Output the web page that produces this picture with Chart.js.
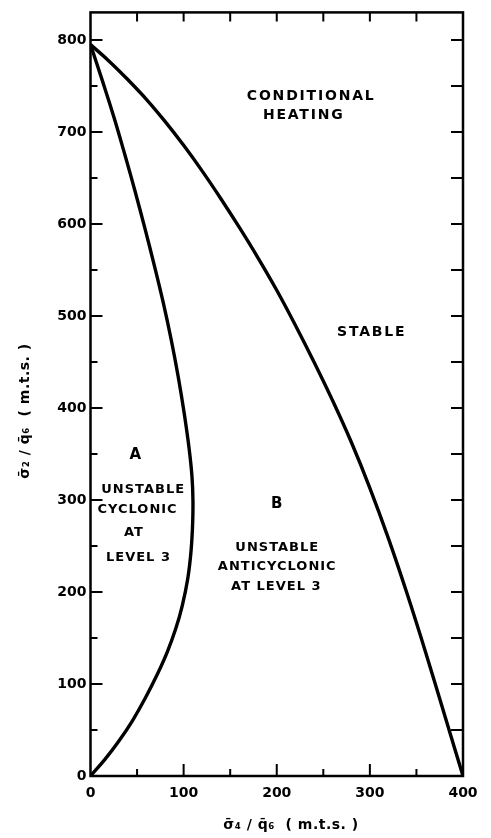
<!DOCTYPE html>
<html>
<head>
<meta charset="utf-8">
<script src="https://cdn.jsdelivr.net/npm/chart.js@4.4.0/dist/chart.umd.min.js"></script>
<style>
    html, body { margin: 0; padding: 0; background: #ffffff; }
    #graph_box { width: 491px; height: 838px; }
</style>
</head>
<body>
<div id="graph_box"><canvas id="graph_canvas"></canvas></div>
<script>
// stable / unstable boundary, read along sigma4/q6
const outerX = [0, 20, 40, 60, 80, 100, 120, 140, 160, 180, 200, 220, 240, 260, 280, 300, 320, 340, 360, 380, 400];
const outerY = [795, 777, 757, 735.5, 711.5, 685.5, 657.5, 627.5, 596, 563, 528, 490, 450, 408, 363, 313, 258, 198, 134, 67, 0];

// cyclonic / anticyclonic boundary (bulges out to ~110 near 300)
const innerX = [0, 13, 25.5, 37, 48, 58.5, 68.5, 78, 86.5, 94, 100.5, 106, 109, 110, 109.7, 108, 104.5, 98.5, 91.5, 82.5, 71.5, 59, 45, 30.5, 15.5, 0];
const innerY = [795, 755, 715, 675, 635, 595, 555, 515, 475, 435, 395, 355, 325, 300, 275, 245, 215, 185, 160, 135, 110, 85, 60, 38, 18, 0];

const xTicks = [0, 100, 200, 300, 400];
const yTicks = [0, 100, 200, 300, 400, 500, 600, 700, 800];

const xTitle = 'σ̄₄ / q̄₆  ( m.t.s. )';
const yTitle = 'σ̄₂ / q̄₆  ( m.t.s. )';

// region names: text, x, y (data units), font size, letter spacing
const notes = [
    ['CONDITIONAL', 236, 739, 14, 1.8], ['HEATING', 228, 718, 14, 1.8],
    ['STABLE', 301, 482, 14, 1.8],
    ['A', 48, 349, 15, 0],
    ['UNSTABLE', 56, 311, 13, 1], ['CYCLONIC', 50, 290, 13, 1], ['AT', 46, 264, 13, 1], ['LEVEL 3', 51, 237, 13, 1],
    ['B', 200, 295, 15, 0],
    ['UNSTABLE', 200, 248, 13, 1], ['ANTICYCLONIC', 200, 228, 13, 1], ['AT LEVEL 3', 199, 206, 13, 1]
];

const FONT = '"DejaVu Sans", sans-serif';

function toPoints(xs, ys) {
    return xs.map((x, i) => ({x: x, y: ys[i]}));
}

// box, inward tick marks, region names and axis titles
const framePlugin = {
    id: 'framePlugin',
    afterDatasetsDraw(chart) {
        const ctx = chart.ctx;
        const a = chart.chartArea;
        const xs = chart.scales.x;
        const ys = chart.scales.y;
        ctx.save();
        ctx.strokeStyle = '#000';
        ctx.lineWidth = 2;
        ctx.beginPath();
        xs.ticks.forEach(t => {
            if (t.value % 50 != 0 || t.value <= 0 || t.value >= 400) return;
            const px = xs.getPixelForValue(t.value);
            const len = t.value % 100 == 0 ? 12 : 7;
            ctx.moveTo(px, a.bottom);
            ctx.lineTo(px, a.bottom - len);
            ctx.moveTo(px, a.top);
            ctx.lineTo(px, a.top + 9);
        });
        ys.ticks.forEach(t => {
            if (t.value % 50 != 0 || t.value <= 0) return;
            const py = ys.getPixelForValue(t.value);
            const len = t.value % 100 == 0 ? 12 : 7;
            ctx.moveTo(a.left, py);
            ctx.lineTo(a.left + len, py);
            ctx.moveTo(a.right, py);
            ctx.lineTo(a.right - 12, py);
        });
        ctx.stroke();
        ctx.lineWidth = 2.5;
        ctx.strokeRect(a.left, a.top, a.right - a.left, a.bottom - a.top);

        ctx.fillStyle = '#000';
        ctx.textAlign = 'center';
        ctx.textBaseline = 'middle';
        for (const n of notes) {
            ctx.font = 'bold ' + n[3] + 'px ' + FONT;
            ctx.letterSpacing = n[4] + 'px';
            ctx.fillText(n[0], xs.getPixelForValue(n[1]) + n[4] / 2, ys.getPixelForValue(n[2]));
        }

        ctx.font = 'bold 14px ' + FONT;
        ctx.letterSpacing = '0.5px';
        ctx.fillText(xTitle, 291, 825);
        ctx.translate(25, 411);
        ctx.rotate(-Math.PI / 2);
        ctx.fillText(yTitle, 0, 0);
        ctx.restore();
    }
};

const canvas = document.getElementById('graph_canvas');
canvas.width = 491;
canvas.height = 838;
const ctx = canvas.getContext('2d');

const lineStyle = {
    borderColor: '#000',
    backgroundColor: '#000',
    borderWidth: 3.4,
    pointRadius: 0,
    showLine: true,
    tension: 0.4,
    fill: false
};

chart = new Chart(ctx, {
    type: 'scatter',
    data: {
        datasets: [
            Object.assign({label: 'stable boundary', data: toPoints(outerX, outerY)}, lineStyle),
            Object.assign({label: 'level 3 boundary', data: toPoints(innerX, innerY)}, lineStyle)
        ]
    },
    options: {
        responsive: false,
        maintainAspectRatio: false,
        animation: false,
        layout: {
            padding: {top: 9, right: 28, left: 0, bottom: 0}
        },
        scales: {
            x: {
                type: 'linear',
                min: 0,
                max: 400,
                afterFit: s => { s.height = 62; },
                border: {display: false},
                grid: {display: false, drawTicks: false},
                ticks: {
                    stepSize: 50,
                    autoSkip: false,
                    maxRotation: 0,
                    padding: 9,
                    color: '#000',
                    font: {family: FONT, size: 14, weight: 'bold'},
                    callback: v => xTicks.includes(v) ? String(v) : ''
                }
            },
            y: {
                type: 'linear',
                min: 0,
                max: 830,
                afterFit: s => { s.width = 90.5; },
                border: {display: false},
                grid: {display: false, drawTicks: false},
                ticks: {
                    stepSize: 50,
                    includeBounds: false,
                    autoSkip: false,
                    padding: 4,
                    color: '#000',
                    font: {family: FONT, size: 14, weight: 'bold'},
                    callback: v => yTicks.includes(v) ? String(v) : ''
                }
            }
        },
        plugins: {
            legend: {display: false},
            tooltip: {enabled: false}
        }
    },
    plugins: [framePlugin]
});
</script>
</body>
</html>
